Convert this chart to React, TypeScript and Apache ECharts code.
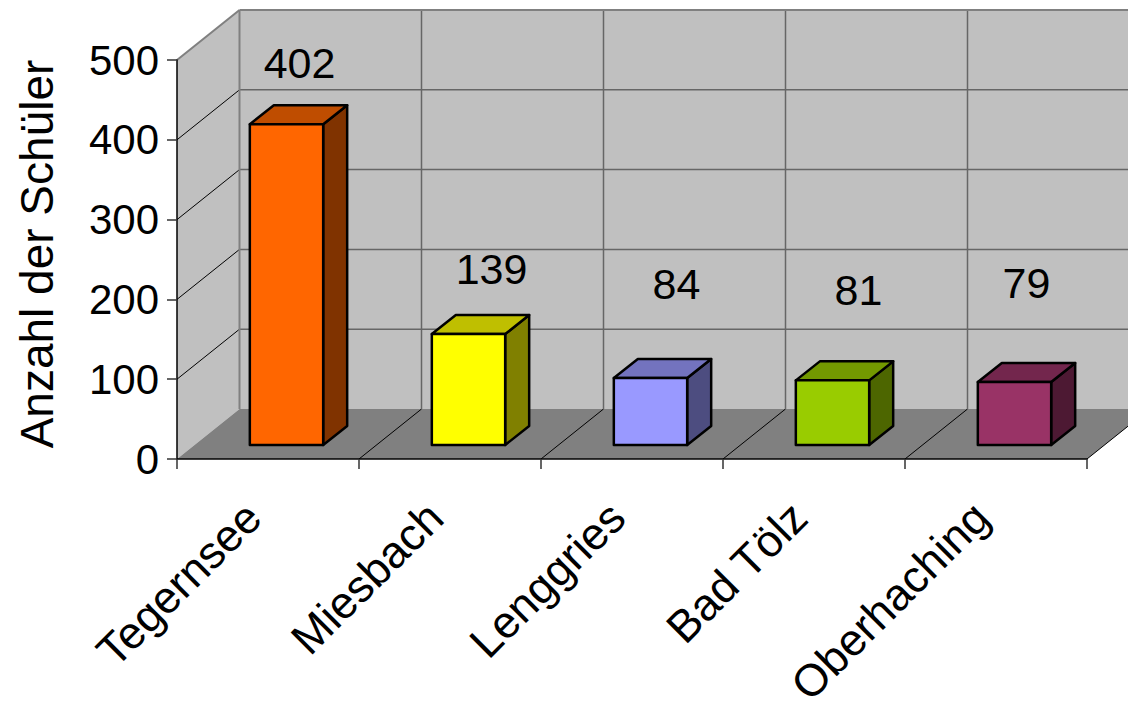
import React, { useEffect, useRef } from "react";
import * as echarts from "echarts";

const categories = ["Tegernsee", "Miesbach", "Lenggries", "Bad Tölz", "Oberhaching"];
const pupils = [402, 139, 84, 81, 79];
const valueTicks = [0, 100, 200, 300, 400, 500];
const yTitle = "Anzahl der Schüler";

const frontColors = ["#FF6600", "#FFFF00", "#9999FF", "#99CC00", "#993366"];
const topColors = ["#BF4D00", "#BFBF00", "#7373BF", "#739900", "#73264D"];
const sideColors = ["#803300", "#808000", "#4D4D80", "#4D6600", "#4D1933"];

// where each value label sits relative to the top-centre of its bar's front face
const labelNudgeX = [13, 23, 26, 26, 12];
const labelNudgeY = [-61, -65, -94, -90, -99];

const FONT = '"Liberation Sans", Arial, sans-serif';
const WALL_DX = 62.5;
const WALL_DY = 50;
const BAR_DX = 24;
const BAR_DY = 19;
const BAR_SHIFT_X = 18.5;
const BAR_SHIFT_Y = 14;

function renderWalls(_params: any, api: any) {
  const band = api.size([1, 0])[0];
  const n = categories.length;
  const maxV = valueTicks[valueTicks.length - 1];
  const x0 = api.coord([0, 0])[0] - band / 2;
  const x1 = x0 + band * n;
  const y0 = api.coord([0, 0])[1];
  const yTop = api.coord([0, maxV])[1];
  const children: any[] = [];
  const thin = { stroke: "#000", lineWidth: 1, fill: "none" };
  const grey = { stroke: "#808080", lineWidth: 2, fill: "none" };
  const back = { stroke: "#666", lineWidth: 1.5, fill: "none" };

  children.push({
    type: "polygon",
    shape: { points: [[x0 + WALL_DX, yTop - WALL_DY], [x1 + WALL_DX, yTop - WALL_DY], [x1 + WALL_DX, y0 - WALL_DY], [x0 + WALL_DX, y0 - WALL_DY]] },
    style: { fill: "#C0C0C0", stroke: "none" },
  });
  children.push({
    type: "polygon",
    shape: { points: [[x0, yTop], [x0 + WALL_DX, yTop - WALL_DY], [x0 + WALL_DX, y0 - WALL_DY], [x0, y0]] },
    style: { fill: "#C0C0C0", stroke: "none" },
  });
  children.push({
    type: "polygon",
    shape: { points: [[x0, y0], [x0 + WALL_DX, y0 - WALL_DY], [x1 + WALL_DX, y0 - WALL_DY], [x1, y0]] },
    style: { fill: "#808080", stroke: "none" },
  });
  valueTicks.forEach((v, i) => {
    const y = api.coord([0, v])[1];
    if (i > 0 && i < valueTicks.length - 1) {
      children.push({ type: "line", shape: { x1: x0, y1: y, x2: x0 + WALL_DX, y2: y - WALL_DY }, style: thin });
      children.push({ type: "line", shape: { x1: x0 + WALL_DX, y1: y - WALL_DY, x2: x1 + WALL_DX, y2: y - WALL_DY }, style: back });
    }
  });
  for (let i = 1; i <= n; i++) {
    const x = x0 + band * i;
    children.push({ type: "line", shape: { x1: x, y1: y0, x2: x + WALL_DX, y2: y0 - WALL_DY }, style: thin });
    children.push({ type: "line", shape: { x1: x + WALL_DX, y1: y0 - WALL_DY, x2: x + WALL_DX, y2: yTop - WALL_DY }, style: back });
  }
  children.push({ type: "line", shape: { x1: x0, y1: yTop, x2: x0 + WALL_DX, y2: yTop - WALL_DY }, style: grey });
  children.push({ type: "line", shape: { x1: x0 + WALL_DX, y1: yTop - WALL_DY, x2: x1 + WALL_DX, y2: yTop - WALL_DY }, style: grey });
  children.push({ type: "line", shape: { x1: x0 + WALL_DX, y1: yTop - WALL_DY, x2: x0 + WALL_DX, y2: y0 - WALL_DY }, style: grey });
  return { type: "group", children };
}

function renderBar(_params: any, api: any) {
  const i = api.value(0);
  const v = api.value(1);
  const width = api.size([1, 0])[0] * 0.403;
  const base = api.coord([i, 0]);
  const top = api.coord([i, v]);
  const l = base[0] + BAR_SHIFT_X - width / 2;
  const r = l + width;
  const b = base[1] - BAR_SHIFT_Y;
  const t = top[1] - BAR_SHIFT_Y;
  const edge = { stroke: "#000", lineWidth: 2.5, lineJoin: "round" };
  return {
    type: "group",
    children: [
      { type: "polygon", shape: { points: [[r, t], [r + BAR_DX, t - BAR_DY], [r + BAR_DX, b - BAR_DY], [r, b]] }, style: { ...edge, fill: sideColors[i] } },
      { type: "polygon", shape: { points: [[l, t], [l + BAR_DX, t - BAR_DY], [r + BAR_DX, t - BAR_DY], [r, t]] }, style: { ...edge, fill: topColors[i] } },
      { type: "polygon", shape: { points: [[l, t], [r, t], [r, b], [l, b]] }, style: { ...edge, fill: frontColors[i] } },
      {
        type: "text",
        style: {
          text: String(v),
          x: (l + r) / 2 + labelNudgeX[i],
          y: t + labelNudgeY[i],
          fontSize: 43,
          fontFamily: FONT,
          fill: "#000",
          align: "center",
          verticalAlign: "middle",
        },
      },
    ],
  };
}

export default function App() {
  const ref = useRef<HTMLDivElement>(null);
  useEffect(() => {
    document.body.style.margin = "0";
    const chart = echarts.init(ref.current!, undefined, { renderer: "svg" });
    chart.setOption({
      animation: false,
      backgroundColor: "#fff",
      grid: { left: 177, right: 41, top: 60, bottom: 242, containLabel: false, outerBoundsMode: "none" },
      xAxis: {
        type: "category",
        data: categories,
        z: 3,
        boundaryGap: true,
        axisLine: { show: true, lineStyle: { color: "#000", width: 1.5 } },
        axisTick: { show: true, length: 10, lineStyle: { color: "#333", width: 1.5 } },
        axisLabel: { interval: 0, rotate: 45, margin: 36, padding: [0, 21, 0, 0], fontSize: 45, fontFamily: FONT, color: "#000" },
        splitLine: { show: false },
      },
      yAxis: {
        type: "value",
        min: 0,
        max: 500,
        interval: 100,
        z: 3,
        name: yTitle,
        nameLocation: "middle",
        nameGap: 117,
        nameTextStyle: { fontSize: 46, fontFamily: FONT, color: "#000", padding: [0, 0, 0, 11] },
        axisLine: { show: true, lineStyle: { color: "#000", width: 1.5 } },
        axisTick: { show: true, length: 10, lineStyle: { color: "#333", width: 1.5 } },
        axisLabel: { margin: 18, fontSize: 42, fontFamily: FONT, color: "#000" },
        splitLine: { show: false },
      },
      series: [
        { type: "custom", z: 1, silent: true, renderItem: renderWalls, data: [[0, 0]], encode: { x: 0, y: 1 }, clip: false },
        { type: "custom", z: 4, silent: true, renderItem: renderBar, data: pupils.map((v, i) => [i, v]), encode: { x: 0, y: 1 }, clip: false },
      ],
    });
    return () => chart.dispose();
  }, []);
  return <div ref={ref} style={{ width: 1128, height: 701 }} />;
}
